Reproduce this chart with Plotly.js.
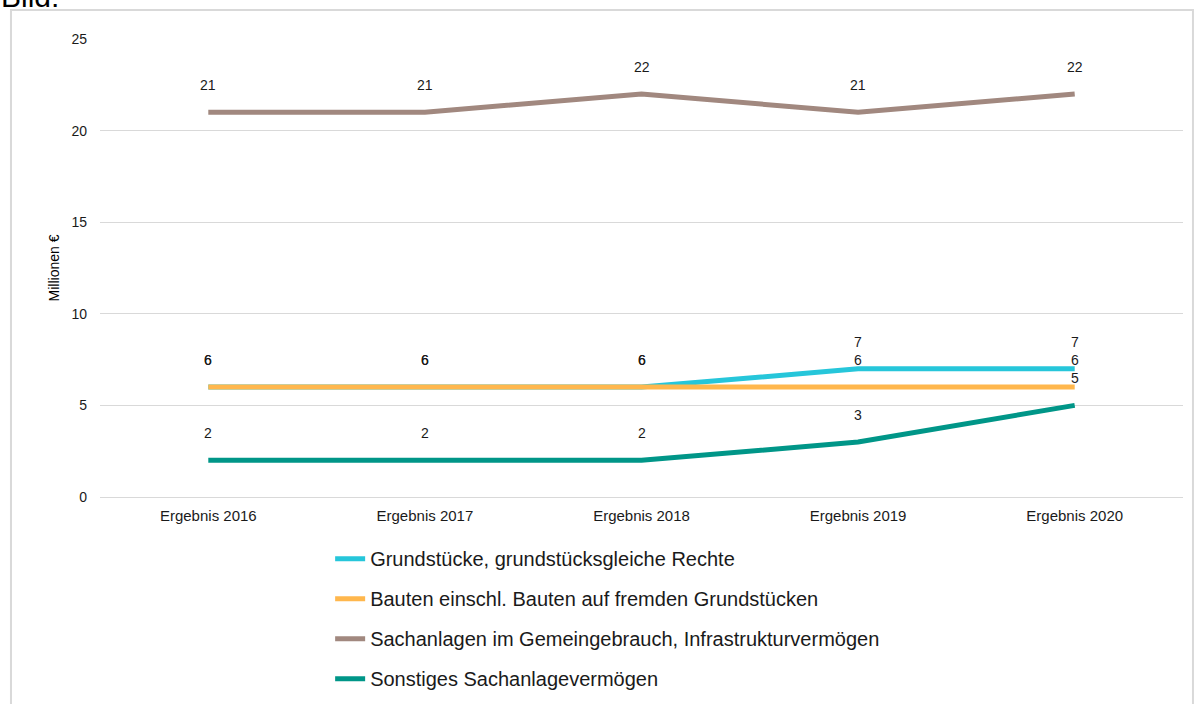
<!DOCTYPE html>
<html>
<head>
<meta charset="utf-8">
<script src="https://cdn.plot.ly/plotly-3.0.1.min.js"></script>
<style>html,body{margin:0;padding:0;background:#fff;}#chart{width:1202px;height:704px;}</style>
</head>
<body>
<div id="chart"></div>
<script>
const categories = ["Ergebnis 2016", "Ergebnis 2017", "Ergebnis 2018", "Ergebnis 2019", "Ergebnis 2020"];
const seriesNames = [
  "Grundstücke, grundstücksgleiche Rechte",
  "Bauten einschl. Bauten auf fremden Grundstücken",
  "Sachanlagen im Gemeingebrauch, Infrastrukturvermögen",
  "Sonstiges Sachanlagevermögen"
];
const grundstuecke = [6, 6, 6, 7, 7];
const bauten = [6, 6, 6, 6, 6];
const gemeingebrauch = [21, 21, 22, 21, 22];
const sonstiges = [2, 2, 2, 3, 5];
const yTicks = [0, 5, 10, 15, 20, 25];

const seriesValues = [grundstuecke, bauten, gemeingebrauch, sonstiges];
const colors = ["#26C6DA", "#FFB74D", "#A1887F", "#009688"];
const font = "Liberation Sans, Arial, sans-serif";

const traces = seriesValues.map((vals, i) => ({
  type: "scatter",
  mode: "lines",
  x: categories,
  y: vals,
  name: seriesNames[i],
  legendgroup: "g" + i,
  line: {color: colors[i], width: 5},
  hoverinfo: "skip"
}));

const annotations = [];
seriesValues.forEach((vals) => {
  vals.forEach((v, j) => {
    annotations.push({
      x: categories[j], y: v, xref: "x", yref: "y",
      text: String(v), showarrow: false, yshift: 27,
      font: {family: font, size: 14, color: "#1a1a1a"}
    });
  });
});
annotations.push({
  xref: "paper", yref: "paper", x: -0.0935, y: 1.052, xanchor: "left", yanchor: "bottom",
  text: "Bild:", showarrow: false, font: {family: font, size: 30, color: "#000"}
});

const layout = {
  width: 1202, height: 704,
  margin: {l: 100, r: 19, t: 39, b: 207, autoexpand: false},
  paper_bgcolor: "#fff", plot_bgcolor: "#fff",
  font: {family: font, color: "#000"},
  showlegend: true,
  legend: {
    orientation: "v", x: 0.2125, xanchor: "left", y: -0.092, yanchor: "top",
    font: {family: font, size: 20, color: "#1a1a1a"},
    tracegroupgap: 11, bgcolor: "rgba(0,0,0,0)"
  },
  xaxis: {
    type: "category", range: [-0.5, 4.5], showgrid: false, zeroline: false,
    showline: false, ticks: "", ticklabelstandoff: 8,
    tickfont: {family: font, size: 15, color: "#1a1a1a"}, fixedrange: true
  },
  yaxis: {
    range: [0, 25], tickvals: yTicks, ticktext: yTicks.map(String),
    showgrid: true, gridcolor: "#d9d9d9", gridwidth: 1,
    zeroline: true, zerolinecolor: "#d9d9d9", zerolinewidth: 1,
    showline: false, ticks: "", ticklabelstandoff: 12,
    tickfont: {family: font, size: 14, color: "#1a1a1a"},
    title: {text: "Millionen €", font: {family: font, size: 14, color: "#000"}, standoff: 8},
    fixedrange: true
  },
  shapes: [{
    type: "rect", xref: "paper", yref: "paper",
    x0: -0.0822, x1: 1.0092, y0: -0.6, y1: 1.0633,
    line: {color: "#d9d9d9", width: 2}, fillcolor: "rgba(0,0,0,0)", layer: "below"
  }],
  annotations: annotations
};

Plotly.newPlot("chart", traces, layout, {staticPlot: true, displayModeBar: false});
</script>
</body>
</html>
